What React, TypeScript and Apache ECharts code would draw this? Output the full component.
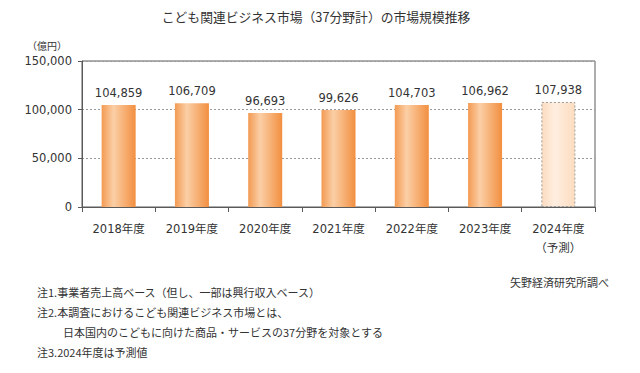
import React, { useEffect, useRef } from "react";
import * as echarts from "echarts";

const categories = ["2018年度", "2019年度", "2020年度", "2021年度", "2022年度", "2023年度", "2024年度\n（予測）"];
const values = [104859, 106709, 96693, 99626, 104703, 106962, 107938];
const forecastIndex = 6;
const yTicks = [0, 50000, 100000, 150000];
const title = "こども関連ビジネス市場（37分野計）の市場規模推移";
const unitLabel = "（億円）";
const sourceLabel = "矢野経済研究所調べ";
const notes = [
  "注1.事業者売上高ベース（但し、一部は興行収入ベース）",
  "注2.本調査におけるこども関連ビジネス市場とは、",
  "日本国内のこどもに向けた商品・サービスの37分野を対象とする",
  "注3.2024年度は予測値",
];
const noteIndent = [0, 0, 1, 0];

const NUM_FONT = "'DejaVu Sans', 'Noto Sans CJK JP', sans-serif";
const JP_FONT = "'Noto Sans CJK JP', sans-serif";

export default function App() {
  const ref = useRef<HTMLDivElement>(null);
  useEffect(() => {
    if (!ref.current) return;
    const chart = echarts.init(ref.current, undefined, { renderer: "svg" });
    const normalColor = new echarts.graphic.LinearGradient(0, 0, 1, 0, [
      { offset: 0, color: "#f39a52" },
      { offset: 0.35, color: "#fbcfa6" },
      { offset: 1, color: "#f28f40" },
    ]);
    const forecastColor = new echarts.graphic.LinearGradient(0, 0, 1, 0, [
      { offset: 0, color: "#fcdcc0" },
      { offset: 0.4, color: "#feeee0" },
      { offset: 1, color: "#fcdcbf" },
    ]);
    const data = values.map((v, i) =>
      i === forecastIndex
        ? {
            value: v,
            itemStyle: { color: forecastColor, borderColor: "#9a9a9a", borderWidth: 1, borderType: [2, 2] },
          }
        : { value: v, itemStyle: { color: normalColor } }
    );
    chart.setOption({
      animation: false,
      grid: {
        left: 82,
        right: 45,
        top: 61,
        bottom: 166,
        show: true,
        borderColor: "#5a5a5a",
        borderWidth: 1,
      },
      xAxis: {
        type: "category",
        data: categories,
        axisLine: { lineStyle: { color: "#5a5a5a" } },
        axisTick: { show: true, length: 5, lineStyle: { color: "#5a5a5a" } },
        axisLabel: {
          color: "#333",
          fontSize: 11.5,
          fontFamily: NUM_FONT,
          margin: 12,
          lineHeight: 19,
        },
      },
      yAxis: {
        type: "value",
        min: 0,
        max: 150000,
        interval: 50000,
        axisLine: { show: true, lineStyle: { color: "#5a5a5a" } },
        axisTick: { show: true, length: 4, lineStyle: { color: "#5a5a5a" } },
        axisLabel: {
          color: "#333",
          fontSize: 11.5,
          fontFamily: NUM_FONT,
          margin: 10,
          formatter: (v: number) => (yTicks.includes(v) ? v.toLocaleString("en-US") : ""),
        },
        splitLine: { show: true, lineStyle: { color: "#9a9a9a", type: [2, 2], width: 1 } },
      },
      series: [
        {
          type: "bar",
          data,
          barWidth: 34,
          label: {
            show: true,
            position: "top",
            distance: 6,
            color: "#333",
            fontSize: 11.5,
            fontFamily: NUM_FONT,
            formatter: (p: any) => Number(p.value).toLocaleString("en-US"),
          },
        },
      ],
      graphic: [
        {
          type: "text",
          x: 316,
          y: 16,
          style: { text: title, fontSize: 12.8, fill: "#333", fontFamily: JP_FONT, align: "center", verticalAlign: "middle" },
        },
        {
          type: "text",
          x: 47,
          y: 45,
          style: { text: unitLabel, fontSize: 10, fill: "#333", fontFamily: JP_FONT, align: "center", verticalAlign: "middle" },
        },
        {
          type: "text",
          x: 609,
          y: 282,
          style: { text: sourceLabel, fontSize: 11, fill: "#333", fontFamily: JP_FONT, align: "right", verticalAlign: "middle" },
        },
        ...notes.map((t, i) => ({
          type: "text",
          x: noteIndent[i] ? 63 : 37,
          y: [292, 312, 332, 352][i],
          style: { text: t, fontSize: 11, fill: "#333", fontFamily: JP_FONT, verticalAlign: "middle" },
        })),
      ],
    });
    return () => chart.dispose();
  }, []);
  return <div ref={ref} style={{ position: "fixed", left: 0, top: 0, width: 640, height: 373, background: "#fff" }} />;
}
